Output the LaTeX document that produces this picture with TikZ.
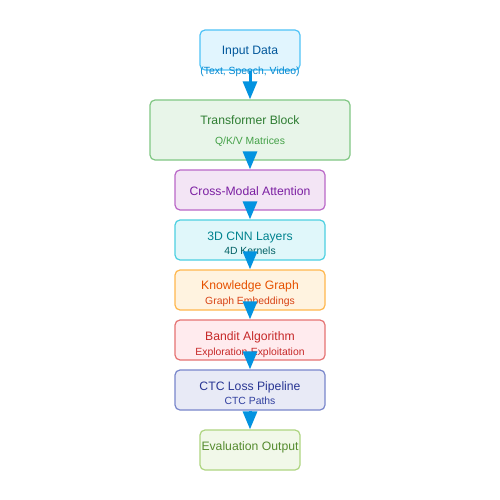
\documentclass[tikz,border=0pt]{standalone}
\usepackage{fontspec}
\setmainfont{Liberation Sans}
\usetikzlibrary{arrows.meta}
\definecolor{inF}{HTML}{E1F5FE}\definecolor{inD}{HTML}{4FC3F7}\definecolor{inT}{HTML}{01579B}\definecolor{inS}{HTML}{0288D1}
\definecolor{trF}{HTML}{E8F5E9}\definecolor{trD}{HTML}{81C784}\definecolor{trT}{HTML}{2E7D32}\definecolor{trS}{HTML}{43A047}
\definecolor{cmF}{HTML}{F3E5F5}\definecolor{cmD}{HTML}{BA68C8}\definecolor{cmT}{HTML}{7B1FA2}
\definecolor{cnF}{HTML}{E0F7FA}\definecolor{cnD}{HTML}{4DD0E1}\definecolor{cnT}{HTML}{00838F}\definecolor{cnS}{HTML}{006064}
\definecolor{kgF}{HTML}{FFF3E0}\definecolor{kgD}{HTML}{FFB74D}\definecolor{kgT}{HTML}{E65100}\definecolor{kgS}{HTML}{D84315}
\definecolor{baF}{HTML}{FFEBEE}\definecolor{baD}{HTML}{E57373}\definecolor{baT}{HTML}{C62828}\definecolor{baS}{HTML}{C62828}
\definecolor{ctF}{HTML}{E8EAF6}\definecolor{ctD}{HTML}{7986CB}\definecolor{ctT}{HTML}{283593}\definecolor{ctS}{HTML}{303F9F}
\definecolor{evF}{HTML}{F1F8E9}\definecolor{evD}{HTML}{AED581}\definecolor{evT}{HTML}{558B2F}
\definecolor{arr}{HTML}{0393E0}
\begin{document}
\begin{tikzpicture}[x=1pt,y=-1pt,
  box/.style={draw, rounded corners=5pt, line width=1.2pt, inner sep=0pt},
  ttl/.style={anchor=base, inner sep=0pt, font=\fontsize{12.2}{14}\selectfont},
  sub/.style={anchor=base, inner sep=0pt, font=\fontsize{10.4}{12}\selectfont},
  flow/.style={draw=arr, line width=3pt, -{Triangle[width=14pt,length=18pt]}}]
\useasboundingbox[fill=white] (0,0) rectangle (500,500);
\node[box, fill=inF, draw=inD, minimum width=100pt, minimum height=40pt] (in) at (250,50) {};
\node[box, fill=trF, draw=trD, minimum width=200pt, minimum height=60pt] (tr) at (250,130) {};
\node[box, fill=cmF, draw=cmD, minimum width=150pt, minimum height=40pt] (cm) at (250,190) {};
\node[box, fill=cnF, draw=cnD, minimum width=150pt, minimum height=40pt] (cn) at (250,240) {};
\node[box, fill=kgF, draw=kgD, minimum width=150pt, minimum height=40pt] (kg) at (250,290) {};
\node[box, fill=baF, draw=baD, minimum width=150pt, minimum height=40pt] (ba) at (250,340) {};
\node[box, fill=ctF, draw=ctD, minimum width=150pt, minimum height=40pt] (ct) at (250,390) {};
\node[box, fill=evF, draw=evD, minimum width=100pt, minimum height=40pt] (ev) at (250,450) {};
\node[ttl, text=inT] (inA) at (250,54.3) {Input Data};
\node[sub, text=inS] (inB) at (250,75) {(Text, Speech, Video)};
\node[ttl, text=trT] (trA) at (250,124.5) {Transformer Block};
\node[sub, text=trS] (trB) at (250,144.3) {Q/K/V Matrices};
\node[ttl, text=cmT] (cmA) at (250,195) {Cross-Modal Attention};
\node[ttl, text=cnT] (cnA) at (250,240) {3D CNN Layers};
\node[sub, text=cnS] (cnB) at (250,254.6) {4D Kernels};
\node[ttl, text=kgT] (kgA) at (250,289.3) {Knowledge Graph};
\node[sub, text=kgS] (kgB) at (250,304.6) {Graph Embeddings};
\node[ttl, text=baT] (baA) at (250,340) {Bandit Algorithm};
\node[sub, text=baS] (baB) at (250,355) {Exploration-Exploitation};
\node[ttl, text=ctT] (ctA) at (250,390.3) {CTC Loss Pipeline};
\node[sub, text=ctS] (ctB) at (250,404.3) {CTC Paths};
\node[ttl, text=evT] (evA) at (250,450.3) {Evaluation Output};
\draw[flow] (in.south) -- (tr.north);
\draw[flow] (tr.south) -- (cm.north);
\draw[flow] (cm.south) -- (cn.north);
\draw[flow] (cn.south) -- (kg.north);
\draw[flow] (kg.south) -- (ba.north);
\draw[flow] (ba.south) -- (ct.north);
\draw[flow] (ct.south) -- (ev.north);
\end{tikzpicture}
\end{document}
